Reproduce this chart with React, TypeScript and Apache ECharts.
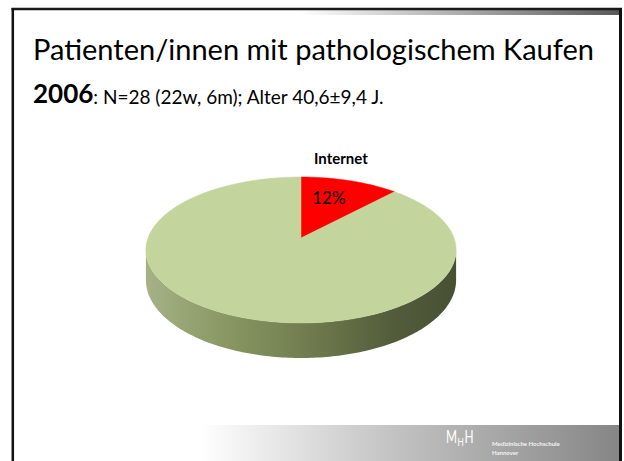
import React, { useEffect, useRef } from "react";
import * as echarts from "echarts";

const categories = ["Internet", "Sonstige"];
const values = [12, 88];
const showLabel = [true, false];
const titleLine1 = "Patienten/innen mit pathologischem Kaufen";
const titleYear = "2006";
const titleRest = ": N=28 (22w, 6m); Alter 40,6±9,4 J.";

const topColors = ["#ff0000", "#c3d59c"];
const FONT = "Lato";

export default function App() {
  const ref = useRef<HTMLDivElement>(null);
  useEffect(() => {
    if (!ref.current) return;
    const chart = echarts.init(ref.current, null, { renderer: "svg" });
    const total = values.reduce((a, b) => a + b, 0);
    const starts: number[] = [];
    let acc = 0;
    values.forEach((v) => {
      starts.push(acc);
      acc += v;
    });
    const CX = 301, CY = 238, R = 153, S = 71, K = 0.164, D = 29.3;
    const proj = (phi: number, f = 1) => {
      const u = f * Math.sin(phi);
      const v = -f * Math.cos(phi);
      const w = 1 - K * v;
      return [CX + (R * u) / w, CY + (S * v) / w, D / w];
    };
    const F0 = Math.acos(-K);
    const F1 = 2 * Math.PI - F0;
    const sideStops = [
      { offset: 0, color: "#a4b286" },
      { offset: 0.3, color: "#85935f" },
      { offset: 0.55, color: "#6d794c" },
      { offset: 0.8, color: "#525c3b" },
      { offset: 1, color: "#485033" },
    ];

    const renderItem = (params: any, api: any) => {
      const i = params.dataIndex;
      const val = api.value(0);
      const a0 = (starts[i] / total) * 2 * Math.PI;
      const a1 = a0 + (val / total) * 2 * Math.PI;
      const children: any[] = [];
      const steps = Math.max(4, Math.ceil(((a1 - a0) * 180) / Math.PI));
      const top: number[][] = [[CX, CY]];
      for (let s = 0; s <= steps; s++) {
        const p = proj(a0 + ((a1 - a0) * s) / steps);
        top.push([p[0], p[1]]);
      }
      const s0 = Math.max(a0, F0);
      const s1 = Math.min(a1, F1);
      if (s1 > s0) {
        const n = Math.max(4, Math.ceil(((s1 - s0) * 180) / Math.PI));
        const up: number[][] = [];
        const down: number[][] = [];
        for (let s = 0; s <= n; s++) {
          const p = proj(s0 + ((s1 - s0) * s) / n);
          up.push([p[0], p[1]]);
          down.push([p[0], p[1] + p[2]]);
        }
        children.push({
          type: "polygon",
          z2: 1,
          shape: { points: up.concat(down.reverse()) },
          style: {
            fill: new echarts.graphic.LinearGradient(0, 0, 1, 0, sideStops),
            stroke: null,
          },
        });
      }
      children.push({
        type: "polygon",
        z2: 5,
        shape: { points: top },
        style: { fill: topColors[i], stroke: topColors[i], lineWidth: 0.5 },
      });
      if (showLabel[i]) {
        const mid = (a0 + a1) / 2;
        const pIn = proj(mid, 0.62);
        const pOut = proj(mid, 1);
        children.push({
          type: "text",
          z2: 10,
          x: pIn[0] - 4,
          y: pIn[1] - 3,
          style: {
            text: Math.round((val / total) * 100) + "%",
            fill: "#000",
            font: `17px ${FONT}`,
            align: "center",
            verticalAlign: "middle",
          },
        });
        children.push({
          type: "text",
          z2: 10,
          x: pOut[0] - 9,
          y: pOut[1] - 23,
          style: {
            text: categories[i],
            fill: "#000",
            font: `bold 15px ${FONT}`,
            align: "center",
            verticalAlign: "middle",
          },
        });
      }
      return { type: "group", children };
    };

    chart.setOption({
      animation: false,
      backgroundColor: "#ffffff",
      series: [
        {
          type: "custom",
          coordinateSystem: "none",
          renderItem,
          data: values.map((v, i) => ({ name: categories[i], value: [v] })),
        },
      ],
      graphic: [
        { type: "rect", z: -1, shape: { x: 300, y: 10, width: 319, height: 5 },
          style: { fill: new echarts.graphic.LinearGradient(0, 0, 1, 0, [
            { offset: 0, color: "#ffffff" }, { offset: 1, color: "#5a5a5a" }]) } },
        { type: "rect", z: -1, shape: { x: 200, y: 425, width: 419, height: 36 },
          style: { fill: new echarts.graphic.LinearGradient(0, 0, 1, 0, [
            { offset: 0, color: "#ffffff" }, { offset: 0.45, color: "#c4c4c4" }, { offset: 1, color: "#868686" }]) } },
        { type: "line", shape: { x1: 11.5, y1: 9, x2: 622, y2: 9 }, style: { stroke: "#1a1a1a", lineWidth: 2.5 } },
        { type: "line", shape: { x1: 12.8, y1: 8, x2: 12.8, y2: 461 }, style: { stroke: "#111", lineWidth: 2.5 } },
        { type: "line", shape: { x1: 620.5, y1: 8, x2: 620.5, y2: 461 }, style: { stroke: "#111", lineWidth: 3 } },
        { type: "text", x: 33, y: 48, style: { text: titleLine1, font: `29px ${FONT}`, fill: "#000", verticalAlign: "middle" } },
        { type: "text", x: 33, y: 93, style: {
            text: `{b|${titleYear}}{n|${titleRest}}`,
            verticalAlign: "middle",
            rich: {
              b: { font: `bold 26px ${FONT}`, fill: "#000", verticalAlign: "bottom" },
              n: { font: `19px ${FONT}`, fill: "#000", verticalAlign: "bottom" },
            } } },
        { type: "text", x: 446, y: 437, scaleX: 0.7, style: { text: "M", font: `17px ${FONT}`, fill: "#ffffff", verticalAlign: "middle" } },
        { type: "text", x: 457.5, y: 441, scaleX: 0.75, style: { text: "H", font: `11px ${FONT}`, fill: "#ffffff", verticalAlign: "middle" } },
        { type: "text", x: 464.5, y: 437, scaleX: 0.7, style: { text: "H", font: `17px ${FONT}`, fill: "#ffffff", verticalAlign: "middle" } },
        { type: "text", x: 492, y: 443, style: { text: "Medizinische Hochschule", font: `bold 6px ${FONT}`, fill: "#f4f4f4", verticalAlign: "middle" } },
        { type: "text", x: 492, y: 452, style: { text: "Hannover", font: `bold 6px ${FONT}`, fill: "#f4f4f4", verticalAlign: "middle" } },
      ],
    });
    return () => chart.dispose();
  }, []);
  return (
    <div
      ref={ref}
      style={{ position: "fixed", left: 0, top: 0, width: 624, height: 461 }}
    />
  );
}
